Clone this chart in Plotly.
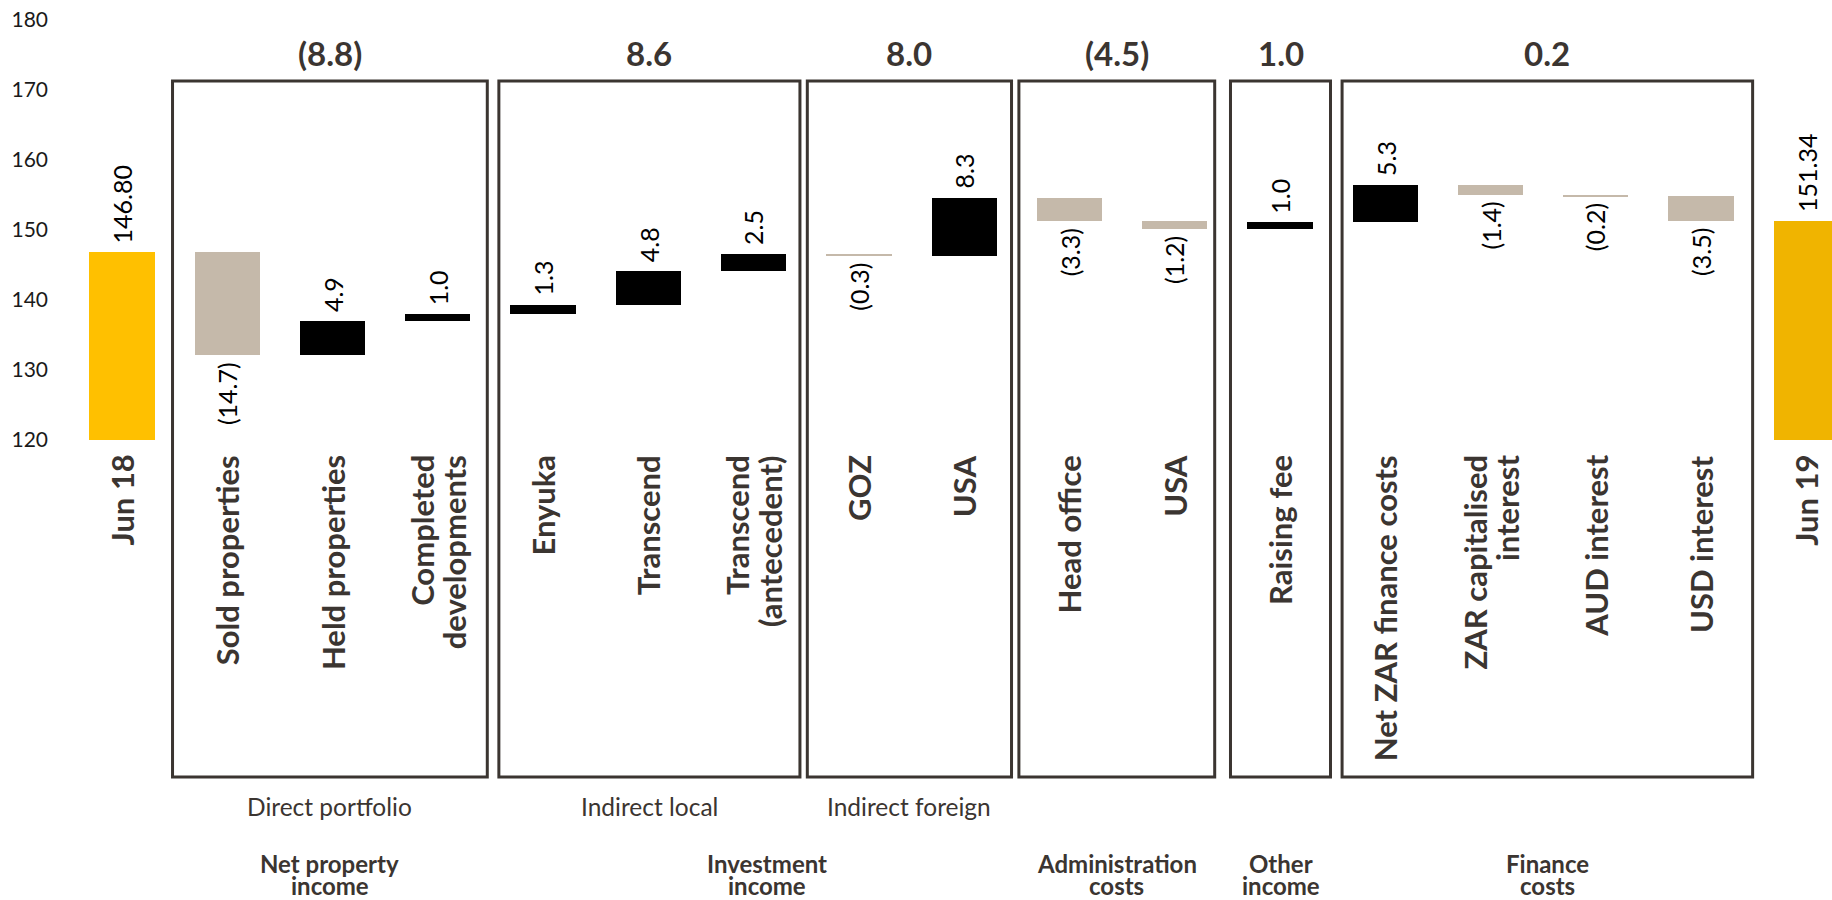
import plotly.graph_objects as go

# ---- data -------------------------------------------------------------
start_label = "Jun 18"
end_label = "Jun 19"
start_value = 146.80
end_value = 151.34

step_labels = [
    "Sold properties", "Held properties", "Completed\ndevelopments",
    "Enyuka", "Transcend", "Transcend\n(antecedent)",
    "GOZ", "USA",
    "Head office", "USA",
    "Raising fee",
    "Net ZAR finance costs", "ZAR capitalised\ninterest", "AUD interest", "USD interest",
]
step_values = [-14.7, 4.9, 1.0, 1.3, 4.8, 2.5, -0.3, 8.3, -3.3, -1.2, 1.0, 5.3, -1.4, -0.2, -3.5]

# boxes: member step positions (1-based along the x axis) and caption under each box
box_members = [[1, 2, 3], [4, 5, 6], [7, 8], [9, 10], [11], [12, 13, 14, 15]]
box_captions = ["Direct portfolio", "Indirect local", "Indirect foreign", "", "", ""]

section_labels = ["Net property\nincome", "Investment\nincome", "Administration\ncosts",
                  "Other\nincome", "Finance\ncosts"]

y_ticks = [120, 130, 140, 150, 160, 170, 180]

# ---- styling ----------------------------------------------------------
FONT = "Lato"
DARK = "#3b3531"
UP = "#000000"
DOWN = "#c5b9aa"
START_COL = "#ffc000"
END_COL = "#f0b400"
FLOOR = 120
W, H = 1832, 900

# box edges (x units) and vertical extent (y units)
box_edges = [(0.48, 3.47), (3.58, 6.44), (6.51, 8.45), (8.52, 10.38), (10.53, 11.48), (11.59, 15.49)]
box_y = (71.86, 171.3)
section_x = [None, 6.13, None, None, None]  # None -> centred on matching box
section_box = [0, None, 3, 4, 5]

# ---- waterfall geometry ----------------------------------------------
xs, bases, heights, colors, texts, ends = [], [], [], [], [], []
xs.append(0); bases.append(FLOOR); heights.append(start_value - FLOOR)
colors.append(START_COL); texts.append(f"{start_value:.2f}"); ends.append(("up", start_value))
run = start_value
for i, v in enumerate(step_values, start=1):
    lo, hi = min(run, run + v), max(run, run + v)
    xs.append(i); bases.append(lo); heights.append(hi - lo)
    colors.append(UP if v >= 0 else DOWN)
    texts.append(f"{v:.1f}" if v >= 0 else f"({-v:.1f})")
    ends.append(("up", hi) if v >= 0 else ("down", lo))
    run += v
n_end = len(step_values) + 1
xs.append(n_end); bases.append(FLOOR); heights.append(end_value - FLOOR)
colors.append(END_COL); texts.append(f"{end_value:.2f}"); ends.append(("up", end_value))

all_labels = [start_label] + step_labels + [end_label]

fig = go.Figure(go.Bar(
    x=xs, y=heights, base=bases, width=0.62,
    marker=dict(color=colors, line=dict(width=0)),
    hoverinfo="skip", showlegend=False,
))

annotations = []

# value labels at the end of each bar
for x, txt, (kind, yv) in zip(xs, texts, ends):
    annotations.append(dict(
        x=x, y=yv, xref="x", yref="y", text=txt, showarrow=False, textangle=-90,
        yanchor="bottom" if kind == "up" else "top",
        yshift=7 if kind == "up" else -5,
        font=dict(family=FONT, size=25, color="#000000"),
    ))

# category labels (rotated, ends aligned at the top)
LABEL_TOP = 1 - 453 / H
LINE_GAP = 33
for x, lab in zip(xs, all_labels):
    lines = lab.split("\n")
    n = len(lines)
    for k, line in enumerate(lines):
        annotations.append(dict(
            x=x, y=LABEL_TOP, xref="x", yref="paper", text=line, showarrow=False,
            textangle=-90, yanchor="top", xanchor="center",
            xshift=(k - (n - 1) / 2) * LINE_GAP,
            font=dict(family=FONT, size=31, color=DARK, weight="bold"),
        ))

shapes = []
for (x0, x1), members, cap in zip(box_edges, box_members, box_captions):
    shapes.append(dict(type="rect", xref="x", yref="y", x0=x0, x1=x1,
                       y0=box_y[0], y1=box_y[1], line=dict(color=DARK, width=3),
                       fillcolor="rgba(0,0,0,0)"))
    total = sum(step_values[m - 1] for m in members)
    total_txt = f"{total:.1f}" if total >= 0 else f"({-total:.1f})"
    cx = (x0 + x1) / 2
    annotations.append(dict(
        x=cx, y=1 - 53 / H, xref="x", yref="paper", text=total_txt, showarrow=False,
        yanchor="middle", xanchor="center",
        font=dict(family=FONT, size=33, color=DARK, weight="bold"),
    ))
    if cap:
        annotations.append(dict(
            x=cx, y=1 - 806 / H, xref="x", yref="paper", text=cap, showarrow=False,
            yanchor="middle", xanchor="center",
            font=dict(family=FONT, size=24.5, color=DARK),
        ))

for lab, sx, sb in zip(section_labels, section_x, section_box):
    cx = sx if sx is not None else sum(box_edges[sb]) / 2
    for k, line in enumerate(lab.split("\n")):
        annotations.append(dict(
            x=cx, y=1 - (863 + 22 * k) / H, xref="x", yref="paper", text=line,
            showarrow=False, yanchor="middle", xanchor="center",
            font=dict(family=FONT, size=24, color=DARK, weight="bold"),
        ))

# axis ranges: category i sits at pixel 122 + 105.27*i, value v at pixel 440 - 7*(v-120)
L = 55
x_range = [(L - 122) / 105.27, (W - 122) / 105.27]
y_range = [FLOOR - (H - 440) / 7, FLOOR + 440 / 7]

fig.update_layout(
    width=W, height=H,
    margin=dict(l=L, r=0, t=0, b=0),
    paper_bgcolor="white", plot_bgcolor="white",
    xaxis=dict(range=x_range, showticklabels=False, showgrid=False, zeroline=False,
               showline=False, ticks=""),
    yaxis=dict(range=y_range, tickvals=y_ticks, showgrid=False, zeroline=False,
               showline=False, ticks="", ticklabelstandoff=6,
               tickfont=dict(family=FONT, size=21, color="#1a1a1a")),
    shapes=shapes, annotations=annotations, bargap=0,
)

fig.write_html("out.html")
